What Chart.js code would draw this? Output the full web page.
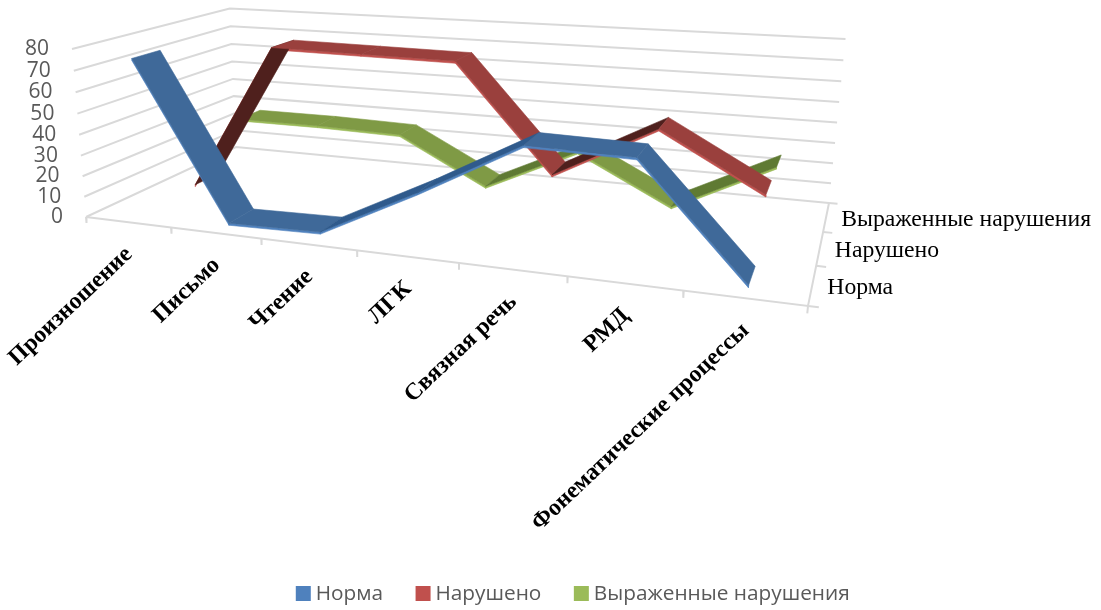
<!DOCTYPE html>
<html><head><meta charset="utf-8">
<style>html,body{margin:0;padding:0;background:#fff}#w{position:relative;width:1101px;height:610px}</style>
<script src="https://cdn.jsdelivr.net/npm/chart.js@4"></script>
</head><body><div id="w"><canvas id="c" width="1101" height="610"></canvas></div>
<script>
const categories = ['Произношение','Письмо','Чтение','ЛГК','Связная речь','РМД','Фонематические процессы'];
const seriesNames = ['Норма','Нарушено','Выраженные нарушения'];
const normaValues = [75,1,2,25,50,49,1];
const narushenoValues = [2,75,74.5,74,25,50,25];
const vyrazhennyeValues = [26,26,25,2,24,1,25];
const valueTicks = [0,10,20,30,40,50,60,70,80];
const depthLabels = ['Норма','Нарушено','Выраженные нарушения'];

const VMAX = 80, H = 0.082, THICK = 1.0;
const A=[86,217], B=[808,306], D=[829,203], C=[236,147], E=[72,49];
const den=(B[0]-D[0])*(C[1]-D[1])-(C[0]-D[0])*(B[1]-D[1]);
const sx=A[0]-B[0]+D[0]-C[0], sy=A[1]-B[1]+D[1]-C[1];
const g=(sx*(C[1]-D[1])-(C[0]-D[0])*sy)/den, h=((B[0]-D[0])*sy-sx*(B[1]-D[1]))/den;
const a=B[0]-A[0]+g*B[0], b=C[0]-A[0]+h*C[0], d0=B[1]-A[1]+g*B[1], e=C[1]-A[1]+h*C[1];
const r=-0.04;
const p=E[0]-A[0]+E[0]*r, q=E[1]-A[1]+E[1]*r;
function P(u,d,v){const n=v/VMAX,w=g*u+h*d+1+n*r;return {x:(a*u+b*d+A[0]+n*p)/w,y:(d0*u+e*d+A[1]+n*q)/w};}

const datasets=[];
const palettes=[
 {base:'#4f81bd',top:'#3f6999',rise:'#2f5a8c'},
 {base:'#c0504d',top:'#9a403d',rise:'#4f201d'},
 {base:'#9bbb59',top:'#7f9a45',rise:'#5f7a33'}];
const allValues=[normaValues,narushenoValues,vyrazhennyeValues];
seriesNames.forEach((n,i)=>datasets.push({label:n,data:[],backgroundColor:palettes[i].base,borderColor:palettes[i].base,borderWidth:11,order:0}));
const poly=(pts,color,order)=>datasets.push({label:'',data:pts,showLine:true,fill:'shape',backgroundColor:color,borderColor:color,borderWidth:0.6,pointRadius:0,order,clip:false});
const line=(pts,order=100)=>datasets.push({label:'',data:pts,showLine:true,fill:false,borderColor:'#d9d9d9',borderWidth:2,pointRadius:0,order,clip:false});
valueTicks.forEach(v=>line([P(0,0,v),P(0,1,v),P(1,1,v)]));
line([P(0,0,0),P(1,0,0),P(1,1,0)]);
categories.forEach((c,i)=>line([P(i/7,0,0),P(i/7,0,-3)]));
line([P(1,0,0),P(1,0,-3)]);
[0,1,2,3].forEach(k=>line([P(1,k/3,0),P(1.012,k/3,0)]));
allValues.forEach((vals,s)=>{
  const c=(s+0.5)/3, d1=c-H, d2=c+H, pal=palettes[s];
  for(let i=vals.length-2;i>=0;i--){
    const u1=(i+.5)/7,u2=(i+1.5)/7,v1=vals[i],v2=vals[i+1];
    const color=v2-v1>3?pal.rise:pal.top;
    poly([P(u1,d1,v1),P(u2,d1,v2),P(u2,d1,v2-THICK),P(u1,d1,v1-THICK),P(u1,d1,v1)],pal.base,5+s*5+0.5);
    poly([P(u1,d1,v1),P(u2,d1,v2),P(u2,d2,v2),P(u1,d2,v1),P(u1,d1,v1)],color,5+s*5);
  }
});
const identityScales={id:'identityScales',afterLayout(chart){
  const {x,y}=chart.scales;
  x.min=x.left;x.max=x.right;x.configure();
  y.min=y.top;y.max=y.bottom;y.configure();
}};
const labelsPlugin={id:'labels3d',afterDatasetsDraw(chart){
  const ctx=chart.ctx;ctx.save();
  ctx.fillStyle='#595959';ctx.font='21px "Open Sans"';ctx.textAlign='right';ctx.textBaseline='middle';
  valueTicks.forEach(v=>{const t=P(0,0,v);ctx.fillText(String(v),t.x-23,t.y);});
  ctx.fillStyle='#000';ctx.font='bold 23.7px "Liberation Serif"';
  categories.forEach((c,i)=>{const t=P((i+.5)/7,0,0);ctx.save();ctx.translate(t.x+1,t.y+29);ctx.rotate(-43.5*Math.PI/180);ctx.textAlign='right';ctx.textBaseline='middle';ctx.fillText(c,0,0);ctx.restore();});
  ctx.font='23.7px "Liberation Serif"';ctx.textAlign='left';
  depthLabels.forEach((c,k)=>{const t=P(1,(k+.5)/3,0);ctx.fillText(c,t.x+15,t.y+3);});
  ctx.restore();
}};
new Chart(document.getElementById('c'),{
  type:'scatter',
  data:{datasets},
  options:{responsive:false,animation:false,events:[],
    layout:{padding:{left:50,right:0,top:0,bottom:-4}},
    scales:{x:{type:'linear',display:false,min:50,max:1101},y:{type:'linear',display:false,min:0,max:544,reverse:true}},
    plugins:{tooltip:{enabled:false},
      legend:{position:'bottom',labels:{boxWidth:4,boxHeight:4,padding:38,color:'#595959',font:{family:'"Open Sans"',size:20.8},filter:it=>it.text!==''}}}
  },
  plugins:[identityScales,labelsPlugin]
});
</script></body></html>
